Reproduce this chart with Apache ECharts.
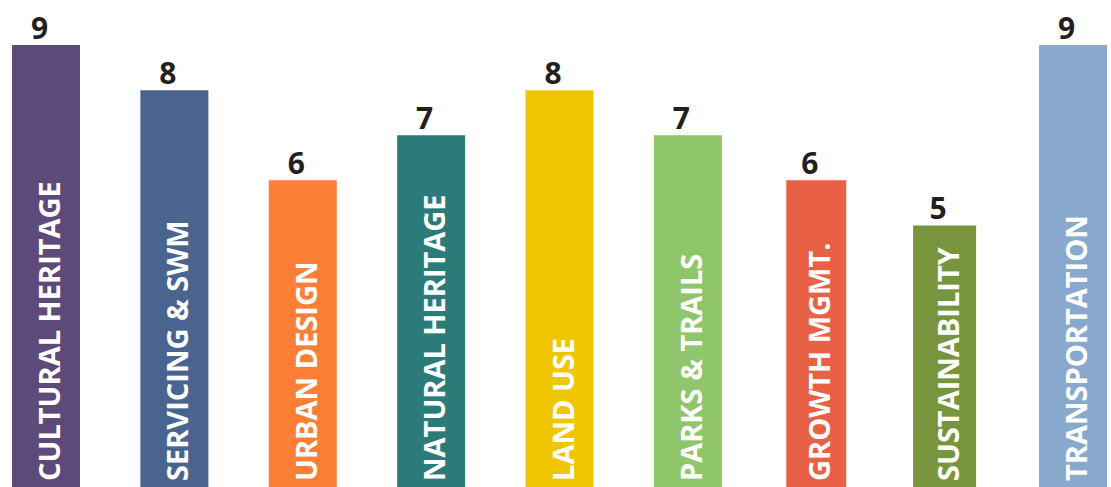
<!DOCTYPE html>
<html>
<head>
<meta charset="utf-8">
<script src="https://cdn.jsdelivr.net/npm/echarts@6/dist/echarts.min.js"></script>
<style>
html,body{margin:0;padding:0;background:#ffffff;}
#chart{width:1111px;height:487px;}
</style>
</head>
<body>
<div id="chart"></div>
<script>
// ---- data ----
var categories = ['CULTURAL HERITAGE', 'SERVICING & SWM', 'URBAN DESIGN', 'NATURAL HERITAGE', 'LAND USE', 'PARKS & TRAILS', 'GROWTH MGMT.', 'SUSTAINABILITY', 'TRANSPORTATION'];
var scores = [9, 8, 6, 7, 8, 7, 6, 5, 9];

// ---- styles ----
var barColors = ['#5e4a7a', '#49648f', '#fd7e35', '#2b7b79', '#efc600', '#8fc66b', '#e96145', '#78943c', '#89a8ce'];
var barWidths = [68, 68, 68, 68, 68, 68, 60, 63, 68];

var seriesData = scores.map(function (v, i) { return [i, v]; });

var chart = echarts.init(document.getElementById('chart'), null, { renderer: 'svg' });
chart.setOption({
  animation: false,
  backgroundColor: '#ffffff',
  grid: { left: 46, right: 38, top: 0, bottom: 0, containLabel: false },
  xAxis: {
    type: 'category', data: categories, boundaryGap: false,
    axisLine: { show: false }, axisTick: { show: false }, axisLabel: { show: false }, splitLine: { show: false }
  },
  yAxis: {
    type: 'value', min: -0.8, max: 10,
    axisLine: { show: false }, axisTick: { show: false }, axisLabel: { show: false }, splitLine: { show: false }
  },
  series: [{
    type: 'custom',
    data: seriesData,
    clip: false,
    renderItem: function (params, api) {
      var idx = api.value(0);
      var val = api.value(1);
      var top = api.coord([idx, val]);
      var cs = params.coordSys;
      var bottom = cs.y + cs.height;
      var w = barWidths[idx];
      var cx = top[0];
      return {
        type: 'group',
        children: [
          {
            type: 'rect',
            shape: { x: cx - w / 2, y: top[1], width: w, height: bottom - top[1] },
            style: { fill: barColors[idx] }
          },
          {
            type: 'text',
            x: cx - 6.5, y: top[1] - 18,
            style: {
              text: String(val), fill: '#231f20',
              font: 'bold 30px "Open Sans", sans-serif',
              align: 'center', verticalAlign: 'middle'
            }
          },
          {
            type: 'text',
            x: cx + 2.5, y: bottom - 6,
            rotation: Math.PI / 2,
            style: {
              text: categories[idx], fill: '#ffffff',
              font: 'bold 29px "Open Sans", sans-serif',
              align: 'left', verticalAlign: 'middle'
            }
          }
        ]
      };
    }
  }]
});
</script>
</body>
</html>
